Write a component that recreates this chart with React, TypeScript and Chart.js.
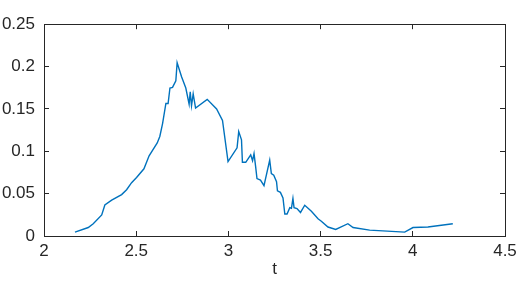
import React, { useEffect, useRef } from "react";
import { Chart, registerables } from "chart.js";

Chart.register(...registerables);

const tValues = [
  2.168, 2.24, 2.267, 2.313, 2.33, 2.367, 2.421, 2.448, 2.475, 2.502, 2.542, 2.57, 2.614, 2.628, 2.643,
  2.661, 2.673, 2.683, 2.697, 2.715, 2.722, 2.746, 2.769, 2.787, 2.793, 2.8, 2.809, 2.822, 2.885, 2.936,
  2.968, 2.998, 3.047, 3.056, 3.071, 3.076, 3.094, 3.121, 3.131, 3.139, 3.148, 3.155, 3.174, 3.193, 3.224,
  3.233, 3.246, 3.261, 3.266, 3.282, 3.296, 3.306, 3.318, 3.333, 3.342, 3.35, 3.356, 3.372, 3.391, 3.414,
  3.45, 3.486, 3.504, 3.54, 3.582, 3.648, 3.676, 3.766, 3.956, 4.001, 4.082, 4.217,
];
const yValues = [
  0.0046, 0.01, 0.0145, 0.0248, 0.0366, 0.0423, 0.0489, 0.0546, 0.0629, 0.069, 0.0793, 0.0946, 0.1098, 0.1175, 0.1327,
  0.1564, 0.1564, 0.1747, 0.1754, 0.1831, 0.2045, 0.188, 0.1747, 0.1556, 0.1701, 0.1537, 0.1678, 0.151, 0.1613, 0.1499,
  0.1365, 0.0878, 0.1041, 0.1232, 0.1136, 0.087, 0.087, 0.0958, 0.0889, 0.0973, 0.0812, 0.0678, 0.066, 0.0595, 0.0896,
  0.0736, 0.0717, 0.0641, 0.0534, 0.0515, 0.045, 0.026, 0.026, 0.0335, 0.0328, 0.0443, 0.0335, 0.0324, 0.0278, 0.0363,
  0.0292, 0.0203, 0.0175, 0.0106, 0.0077, 0.0145, 0.01, 0.0069, 0.0046, 0.01, 0.0106, 0.0145,
];
const xTickValues = [2, 2.5, 3, 3.5, 4, 4.5];
const xTickLabels = ["2", "2.5", "3", "3.5", "4", "4.5"];
const yTickValues = [0, 0.05, 0.1, 0.15, 0.2, 0.25];
const yTickLabels = ["0", "0.05", "0.1", "0.15", "0.2", "0.25"];
const xLabel = "t";

const AXIS_COLOR = "rgb(38,38,38)";
const LINE_COLOR = "#0072BD";
const FONT = { family: "'Liberation Sans', Arial, Helvetica, sans-serif", size: 17 };
const TICK_IN = -5;

function labelFor(values: number[], labels: string[], v: any) {
  const idx = values.findIndex((x) => Math.abs(x - Number(v)) < 1e-9);
  return idx >= 0 ? labels[idx] : "";
}

const gridIn = {
  display: true,
  drawOnChartArea: false,
  drawTicks: true,
  tickLength: TICK_IN,
  color: AXIS_COLOR,
  lineWidth: 1,
};
const borderOn = { display: true, color: AXIS_COLOR, width: 1 };

export default function App() {
  const ref = useRef<HTMLCanvasElement | null>(null);
  useEffect(() => {
    if (!ref.current) return;
    const data = tValues.map((t, i) => ({ x: t, y: yValues[i] }));
    const chart = new Chart(ref.current, {
      type: "line",
      data: {
        datasets: [
          {
            data,
            xAxisID: "x",
            yAxisID: "y",
            borderColor: LINE_COLOR,
            borderWidth: 1.4,
            pointRadius: 0,
            tension: 0,
            fill: false,
          },
        ],
      },
      options: {
        animation: false,
        responsive: false,
        layout: { padding: { left: 0, right: 23, top: 17, bottom: 0 } },
        plugins: { legend: { display: false }, tooltip: { enabled: false } },
        scales: {
          x: {
            type: "linear",
            position: "bottom",
            min: 2,
            max: 4.5,
            grid: gridIn,
            border: borderOn,
            afterFit: (s: any) => {
              s.height = 52;
            },
            ticks: {
              stepSize: 0.5,
              color: AXIS_COLOR,
              font: FONT,
              padding: 10,
              maxRotation: 0,
              autoSkip: false,
              callback: (v: any) => labelFor(xTickValues, xTickLabels, v),
            },
            title: {
              display: true,
              text: xLabel,
              color: AXIS_COLOR,
              font: FONT,
              padding: { top: 0, bottom: 8 },
            },
          },
          x2: {
            type: "linear",
            position: "top",
            min: 2,
            max: 4.5,
            grid: gridIn,
            border: borderOn,
            afterFit: (s: any) => {
              s.height = 0;
            },
            ticks: { stepSize: 0.5, display: false },
          },
          y: {
            type: "linear",
            position: "left",
            min: 0,
            max: 0.25,
            grid: gridIn,
            border: borderOn,
            afterFit: (s: any) => {
              s.width = 44;
            },
            ticks: {
              stepSize: 0.05,
              color: AXIS_COLOR,
              font: FONT,
              padding: 14,
              autoSkip: false,
              callback: (v: any) => labelFor(yTickValues, yTickLabels, v),
            },
          },
          y2: {
            type: "linear",
            position: "right",
            min: 0,
            max: 0.25,
            grid: gridIn,
            border: borderOn,
            afterFit: (s: any) => {
              s.width = 0;
            },
            ticks: { stepSize: 0.05, display: false },
          },
        },
      },
    });
    return () => chart.destroy();
  }, []);
  return (
    <div style={{ position: "fixed", left: 0, top: 0, width: 528, height: 288, background: "#fff" }}>
      <canvas ref={ref} width={528} height={288} style={{ width: 528, height: 288, display: "block" }} />
    </div>
  );
}
